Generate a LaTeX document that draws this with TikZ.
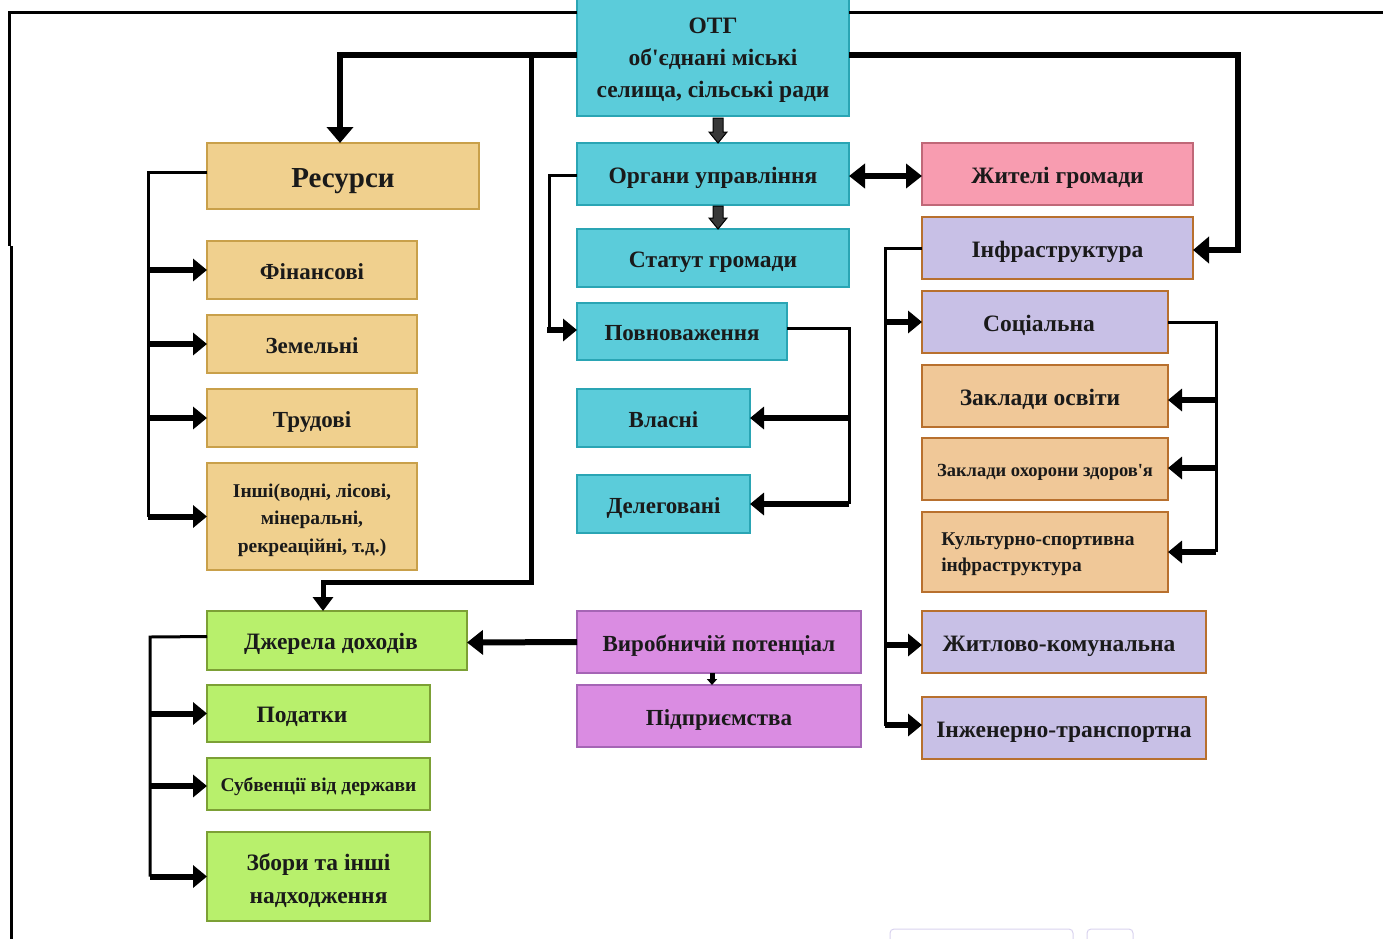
\documentclass[tikz,border=0pt]{standalone}
\usepackage{fontspec}
\setmainfont{Liberation Serif}[Ligatures=TeXOff]
\usetikzlibrary{arrows.meta}
\definecolor{txt}{HTML}{1A1A1A}
\definecolor{cyf}{HTML}{5BCCDA}
\definecolor{cyd}{HTML}{2AA5B4}
\definecolor{rsf}{HTML}{F0D08E}
\definecolor{rsd}{HTML}{C9A04A}
\definecolor{pef}{HTML}{F0C898}
\definecolor{bro}{HTML}{B8702E}
\definecolor{lvf}{HTML}{C8C0E6}
\definecolor{pkf}{HTML}{F89CB0}
\definecolor{pkd}{HTML}{C06878}
\definecolor{grf}{HTML}{B8F06C}
\definecolor{grd}{HTML}{7CA035}
\definecolor{mgf}{HTML}{DA8CE2}
\definecolor{mgd}{HTML}{A565B5}
\definecolor{faint}{HTML}{D8D2EE}
\newcommand{\mlc}[2][4pt]{\raisebox{0pt}[\dimexpr\height+#1*2\relax][\depth]{\begin{tabular}{@{}c@{}}#2\end{tabular}}}
\newcommand{\mll}[2][4pt]{\raisebox{0pt}[\dimexpr\height+#1*2\relax][\depth]{\begin{tabular}{@{}l@{}}#2\end{tabular}}}
\begin{document}
\begin{tikzpicture}[x=1pt,y=-1pt,
  boxbase/.style={draw, line width=2pt, inner sep=0pt, outer sep=0pt, text=txt,
    font=\bfseries\fontsize{23.5}{32}\selectfont},
  box/.style={boxbase, text height=18.5pt, text depth=0pt},
  th/.style={text height=#1},
  mbox/.style={boxbase},
  cybox/.style={fill=cyf, draw=cyd},
  rsbox/.style={fill=rsf, draw=rsd},
  pebox/.style={fill=pef, draw=bro},
  lvbox/.style={fill=lvf, draw=bro},
  pkbox/.style={fill=pkf, draw=pkd},
  grbox/.style={fill=grf, draw=grd},
  mgbox/.style={fill=mgf, draw=mgd},
  thinln/.style={line width=3pt, black},
  stub/.style={line width=6pt, black, -{Triangle[length=14pt,width=22pt]}},
  bigarr/.style={line width=6pt, black, line join=miter, -{Triangle[length=16pt,width=26pt]}},
  blk/.style={fill=black!78, draw=black, line width=1pt}
]
\useasboundingbox (0,0) rectangle (1383,938);

% ---- central column
\node[mbox, cybox, minimum width=272, minimum height=124] (otg) at (713,54)
  {\mlc[5pt]{ОТГ\\об'єднані міські\\селища, сільські ради}};
\node[box, cybox, minimum width=272, minimum height=62] (org) at (713,174) {Органи управління};
\node[box, cybox, minimum width=272, minimum height=58] (stat) at (713,258) {Статут громади};
\node[box, cybox, th=18.2pt, minimum width=210, minimum height=57, font=\bfseries\fontsize{23}{28}\selectfont] (pov) at (682,331.5) {Повноваження};
\node[box, cybox, th=18.2pt, minimum width=173, minimum height=58, font=\bfseries\fontsize{23}{28}\selectfont] (vl) at (663.5,418) {Власні};
\node[box, cybox, th=18.2pt, minimum width=173, minimum height=58, font=\bfseries\fontsize{23}{28}\selectfont] (del) at (663.5,504) {Делеговані};
\node[box, mgbox, th=18.2pt, minimum width=284, minimum height=62, font=\bfseries\fontsize{23}{28}\selectfont] (vyr) at (719,642) {Виробничій потенціал};
\node[box, mgbox, th=18.2pt, minimum width=284, minimum height=62, font=\bfseries\fontsize{23}{28}\selectfont] (pid) at (719,716) {Підприємства};

% ---- right column
\node[box, pkbox, minimum width=271, minimum height=62] (zh) at (1057.5,174) {Жителі громади};
\node[box, lvbox, minimum width=271, minimum height=62] (inf) at (1057.5,248) {Інфраструктура};
\node[box, lvbox, minimum width=246, minimum height=62] (soc) at (1045,322) {\hspace*{-12pt}Соціальна};
\node[box, pebox, minimum width=246, minimum height=62] (osv) at (1045,396) {\hspace*{-10pt}Заклади освіти};
\node[box, pebox, th=15.2pt, minimum width=246, minimum height=62, font=\bfseries\fontsize{18.5}{24}\selectfont] (ohz) at (1045,469) {Заклади охорони здоров'я};
\node[mbox, pebox, minimum width=246, minimum height=80, font=\bfseries\fontsize{19.5}{26}\selectfont] (kult) at (1045,552) {\mll[1pt]{Культурно-спортивна\\інфраструктура}\hspace*{14pt}};
\node[box, lvbox, minimum width=284, minimum height=62] (zhk) at (1064,642) {\hspace*{-10pt}Житлово-комунальна};
\node[box, lvbox, minimum width=284, minimum height=62] (ing) at (1064,728) {Інженерно-транспортна};

% ---- left column
\node[box, rsbox, th=22pt, minimum width=272, minimum height=66, font=\bfseries\fontsize{29}{32}\selectfont] (res) at (343,176) {Ресурси};
\node[box, rsbox, th=18.2pt, minimum width=210, minimum height=58, font=\bfseries\fontsize{23}{28}\selectfont] (fin) at (312,270) {Фінансові};
\node[box, rsbox, th=18.2pt, minimum width=210, minimum height=58, font=\bfseries\fontsize{23}{28}\selectfont] (zem) at (312,344) {Земельні};
\node[box, rsbox, th=18.2pt, minimum width=210, minimum height=58, font=\bfseries\fontsize{23}{28}\selectfont] (tru) at (312,418) {Трудові};
\node[mbox, rsbox, minimum width=210, minimum height=107, font=\bfseries\fontsize{19.5}{27.5}\selectfont] (insh) at (312,516.5) {\mlc[2.5pt]{Інші(водні, лісові,\\мінеральні,\\рекреаційні, т.д.)}};
\node[box, grbox, minimum width=260, minimum height=59] (dzh) at (337,640.5) {\hspace*{-12pt}Джерела доходів};
\node[box, grbox, minimum width=223, minimum height=57] (pod) at (318.5,713.5) {\hspace*{-33pt}Податки};
\node[box, grbox, th=15.9pt, minimum width=223, minimum height=52, font=\bfseries\fontsize{19.5}{24}\selectfont] (sub) at (318.5,784) {Субвенції від держави};
\node[mbox, grbox, minimum width=223, minimum height=89, font=\bfseries\fontsize{23.5}{33}\selectfont] (zb) at (318.5,876.5) {\mlc[4pt]{Збори та інші\\надходження}};

% ---- coordinates for trunks
\coordinate (fl) at (9,12);
\coordinate (fl2) at (11,246);
\coordinate (fr) at (1386,12);
\coordinate (tres) at (340,55);
\coordinate (tmid) at (531,55);
\coordinate (tinf) at (1238,55);
\coordinate (rt) at (148,172);
\coordinate (pt) at (549,175);
\coordinate (vt) at (849,328);
\coordinate (it) at (885,248);
\coordinate (st) at (1216,322);
\coordinate (dt) at (150,637);

% outer frame
\draw[thinln] ([yshift=42pt]otg.west) -- (fl) -- (fl |- fl2);
\draw[thinln] (fl2) -- (fl2 |- 0,940);
\draw[thinln] ([yshift=42pt]otg.east) -- (fr);

% from OTG to resources and income
\draw[bigarr] ([yshift=-1pt]otg.west) -- (tres) -- (res.north -| tres);
\draw[line width=5pt, line join=miter, -{Triangle[length=14pt,width=20pt]}] (tmid) -- (531,582) -- (323,582) -- (dzh.north -| 323,0);
% from OTG to infrastructure
\draw[bigarr] ([yshift=-1pt]otg.east) -- (tinf) -- (1238,250) -- ([yshift=-2pt]inf.east);

% block arrows
\draw[blk] (713,118) -- (723,118) -- (723,132) -- (727,132) -- (718,143) -- (709,132) -- (713,132) -- cycle;
\draw[blk] (713,206) -- (723,206) -- (723,218) -- (727,218) -- (718,229) -- (709,218) -- (713,218) -- cycle;

% organs <-> residents
\draw[line width=6pt, {Triangle[length=16pt,width=24pt]}-{Triangle[length=16pt,width=24pt]}] ([yshift=-2pt]org.east) -- ([yshift=-2pt]zh.west);

% organs -> powers
\draw[thinln] ([yshift=-1pt]org.west) -- (pt) -- (549,330);
\draw[stub] (547,330) -- (pov.west |- 0,330);

% powers -> own / delegated
\draw[thinln] ([yshift=3.5pt]pov.east) -- (vt) -- (vt |- del.east);
\draw[stub] (vt |- vl.east) -- (vl.east);
\draw[stub] (vt |- del.east) -- (del.east);

% resources
\draw[thinln] ([yshift=4pt]res.west) -- (rt) -- (rt |- insh.west);
\draw[stub] (rt |- fin.west) -- (fin.west);
\draw[stub] (rt |- zem.west) -- (zem.west);
\draw[stub] (rt |- tru.west) -- (tru.west);
\draw[stub] (rt |- insh.west) -- (insh.west);

% infrastructure
\draw[thinln] (inf.west) -- (it) -- (885,726);
\draw[stub] (it |- soc.west) -- (soc.west);
\draw[stub] (885,645) -- (zhk.west |- 0,645);
\draw[stub] (885,725) -- (ing.west |- 0,725);

% social
\draw[thinln] (soc.east) -- (st) -- (1216,552);
\draw[stub] (st |- 0,400) -- (osv.east |- 0,400);
\draw[stub] (st |- 0,468) -- (ohz.east |- 0,468);
\draw[stub] (st |- kult.east) -- (kult.east);

% production
\draw[line width=6pt, -{Triangle[length=16pt,width=24pt]}] (vyr.west) -- ([yshift=-2pt]dzh.east);
\draw[line width=5pt, -{Triangle[length=6pt,width=10pt]}] (vyr.south -| 712,0) -- (pid.north -| 712,0);

% income
\draw[thinln] ([yshift=4pt]dzh.west) -- (dt) -- (dt |- zb.west);
\draw[stub] (dt |- pod.west) -- (pod.west);
\draw[stub] (dt |- 0,786) -- (sub.west |- 0,786);
\draw[stub] (dt |- zb.west) -- (zb.west);

% faint artefacts at bottom
\draw[faint, line width=1pt, rounded corners=4pt] (890,945) -- (890,929) -- (1073,929) -- (1073,945);
\draw[faint, line width=1pt, rounded corners=4pt] (1087,945) -- (1087,929) -- (1133,929) -- (1133,945);
\end{tikzpicture}
\end{document}
